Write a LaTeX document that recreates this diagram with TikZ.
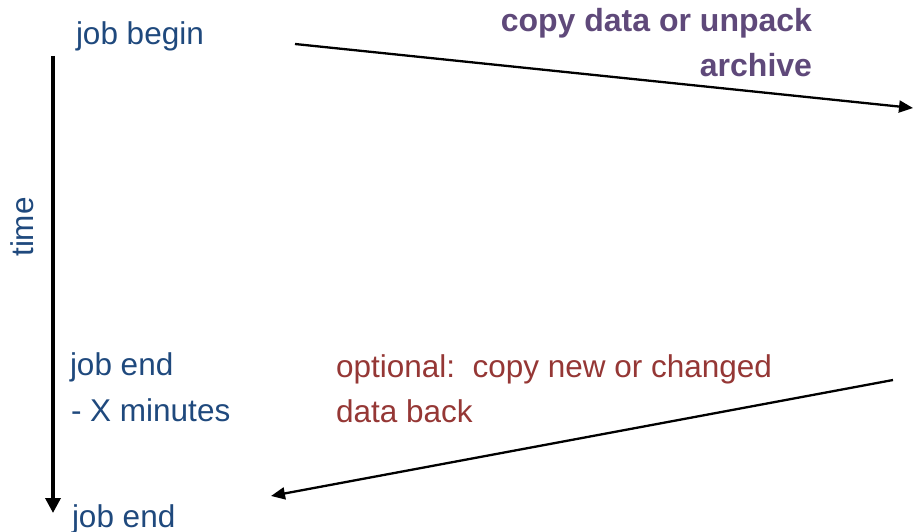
\documentclass[tikz,border=0pt]{standalone}
\usepackage{fontspec}
\setmainfont{Liberation Sans}
\usetikzlibrary{arrows.meta}
\definecolor{jobblue}{RGB}{31,73,125}
\definecolor{copypurple}{RGB}{95,73,122}
\definecolor{backred}{RGB}{149,55,53}
\begin{document}
\begin{tikzpicture}[x=1pt,y=-1pt,
  lbl/.style={inner sep=0pt,outer sep=0pt,font=\fontsize{31.5}{36}\selectfont},
  bluetxt/.style={lbl,text=jobblue,anchor=base west},
  purpletxt/.style={lbl,text=copypurple,anchor=base east,font=\fontsize{32}{36}\selectfont\bfseries},
  redtxt/.style={lbl,text=backred,anchor=base west},
  timeline/.style={line width=3.5pt,-{Triangle[length=15pt,width=15pt]}},
  flow/.style={line width=2.3pt,-{Triangle[length=14pt,width=12pt]}}]
\useasboundingbox (0,0) rectangle (913,532);
% text
\node[bluetxt] (begin) at (76,45) {job begin};
\node[bluetxt] (end1) at (70,375) {job end};
\node[bluetxt] (end2) at (71,421) {- X minutes};
\node[bluetxt] (end3) at (72,527) {job end};
\node[lbl,text=jobblue,rotate=90,anchor=base] (time) at (33,227) {time};
\node[purpletxt] (copy1) at (812,32) {copy data or unpack};
\node[purpletxt] (copy2) at (812,77) {archive};
\node[redtxt] (opt1) at (336,377) {optional:\ \ copy new or changed};
\node[redtxt] (opt2) at (336,422) {data back};
% connector ends
\coordinate (tTop) at (53,56);
\coordinate (tBot) at (53,513);
\coordinate (aS) at (295,44);
\coordinate (aE) at (913,108);
\coordinate (bS) at (893,380);
\coordinate (bE) at (271,496);
\draw[timeline] (tTop) -- (tBot);
\draw[flow] (aS) -- (aE);
\draw[flow] (bS) -- (bE);
\end{tikzpicture}
\end{document}
